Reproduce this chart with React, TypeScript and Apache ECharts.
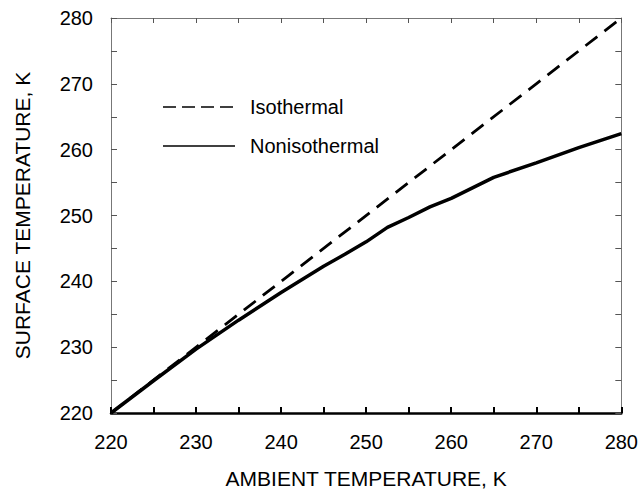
import React, { useEffect, useRef } from "react";
import * as echarts from "echarts";

const isoX = [220, 280];
const isoY = [220, 280];
const nonX = [220, 225, 230, 235, 240, 245, 247.5, 250, 252.5, 255, 257.5, 260, 262.5, 265, 270, 275, 280];
const nonY = [220, 224.9, 229.7, 234.1, 238.3, 242.3, 244.1, 246.0, 248.2, 249.7, 251.3, 252.6, 254.2, 255.8, 258.0, 260.3, 262.45];
const xTicks = [220, 230, 240, 250, 260, 270, 280];
const yTicks = [220, 230, 240, 250, 260, 270, 280];
const legendNames = ["Isothermal", "Nonisothermal"];

const FONT = "Liberation Sans, Arial, sans-serif";

export default function App() {
  const ref = useRef<HTMLDivElement>(null);
  useEffect(() => {
    if (!ref.current) return;
    const chart = echarts.init(ref.current, null, { renderer: "svg" });
    const xMin = xTicks[0], xMax = xTicks[xTicks.length - 1];
    const yMin = yTicks[0], yMax = yTicks[yTicks.length - 1];
    const baseAxis = (horiz: boolean) => ({
      type: "value",
      min: horiz ? xMin : yMin,
      max: horiz ? xMax : yMax,
      interval: 10,
      splitLine: { show: false },
    });
    const legendY = [107, 146];
    const legendGraphic: any[] = [];
    legendNames.forEach((name, i) => {
      legendGraphic.push({
        type: "line",
        shape: { x1: 163, y1: legendY[i], x2: i === 0 ? 238 : 235, y2: legendY[i] },
        style: { stroke: "#000", lineWidth: 1.6, lineDash: i === 0 ? [13, 6] : null },
      });
      legendGraphic.push({
        type: "text",
        x: 250,
        y: legendY[i],
        style: {
          text: name,
          fontSize: 20,
          fontFamily: FONT,
          fill: "#000",
          verticalAlign: "middle",
          align: "left",
        },
      });
    });
    chart.setOption({
      animation: false,
      backgroundColor: "#fff",
      textStyle: { fontFamily: FONT },
      grid: { left: 111, right: 17, top: 18, bottom: 76 },
      graphic: legendGraphic,
      xAxis: [
        {
          ...baseAxis(true),
          position: "bottom",
          name: "AMBIENT TEMPERATURE, K",
          nameLocation: "middle",
          nameGap: 55,
          nameTextStyle: { fontSize: 21, color: "#000", fontFamily: FONT },
          axisLine: { show: true, onZero: false, lineStyle: { color: "#000", width: 2.5 } },
          axisTick: { show: true, inside: true, length: 6, lineStyle: { color: "#000", width: 2 } },
          minorTick: { show: true, splitNumber: 2, length: 6, lineStyle: { color: "#000", width: 2 } },
          axisLabel: { fontSize: 20, color: "#000", margin: 19, fontFamily: FONT },
        },
        {
          ...baseAxis(true),
          position: "top",
          axisLine: { show: true, onZero: false, lineStyle: { color: "#777", width: 1 } },
          axisTick: { show: true, inside: true, length: 5, lineStyle: { color: "#555", width: 1 } },
          minorTick: { show: true, splitNumber: 2, length: 5, lineStyle: { color: "#555", width: 1 } },
          axisLabel: { show: false },
        },
      ],
      yAxis: [
        {
          ...baseAxis(false),
          position: "left",
          name: "SURFACE TEMPERATURE, K",
          nameLocation: "middle",
          nameGap: 78,
          nameTextStyle: { fontSize: 21, color: "#000", fontFamily: FONT },
          axisLine: { show: true, onZero: false, lineStyle: { color: "#777", width: 1 } },
          axisTick: { show: true, inside: true, length: 6, lineStyle: { color: "#555", width: 1 } },
          minorTick: { show: true, splitNumber: 2, length: 6, lineStyle: { color: "#555", width: 1 } },
          axisLabel: { fontSize: 20, color: "#000", margin: 18, fontFamily: FONT },
        },
        {
          ...baseAxis(false),
          position: "right",
          axisLine: { show: true, onZero: false, lineStyle: { color: "#777", width: 1 } },
          axisTick: { show: true, inside: true, length: 6, lineStyle: { color: "#555", width: 1 } },
          minorTick: { show: true, splitNumber: 2, length: 6, lineStyle: { color: "#555", width: 1 } },
          axisLabel: { show: false },
        },
      ],
      series: [
        {
          name: legendNames[0],
          type: "line",
          data: isoX.map((x, i) => [x, isoY[i]]),
          showSymbol: false,
          symbol: "none",
          lineStyle: { color: "#000", width: 2.8, type: [15, 9] },
          itemStyle: { color: "#000" },
        },
        {
          name: legendNames[1],
          type: "line",
          data: nonX.map((x, i) => [x, nonY[i]]),
          showSymbol: false,
          symbol: "none",
          lineStyle: { color: "#000", width: 3.5, type: "solid" },
          itemStyle: { color: "#000" },
        },
      ],
    });
    return () => chart.dispose();
  }, []);
  return (
    <div
      ref={ref}
      style={{ position: "absolute", left: 0, top: 0, width: 641, height: 494 }}
    />
  );
}
